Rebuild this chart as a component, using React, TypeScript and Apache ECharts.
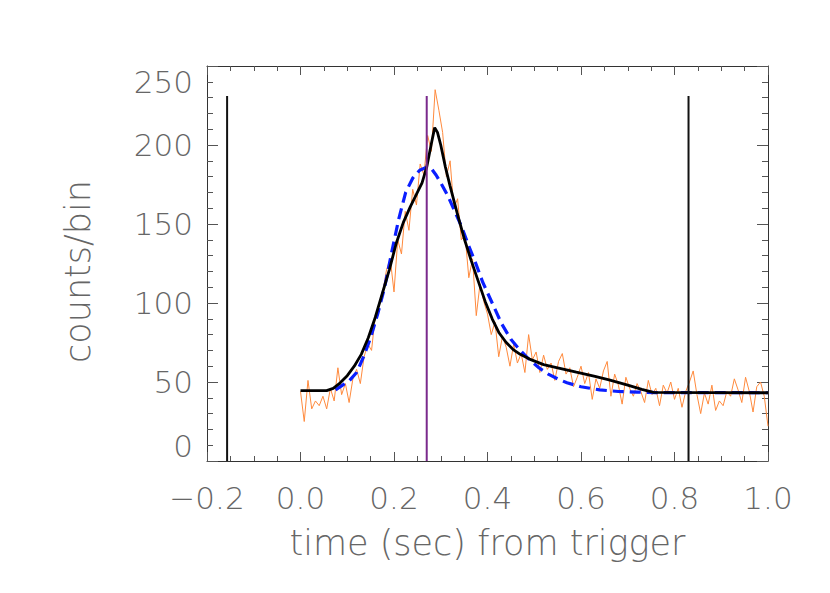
import React, { useEffect, useRef } from 'react';
import * as echarts from 'echarts';

// Light curve: counts per bin, bins of 0.008 s starting at t = 0.0
const BIN_START = 0.0;
const BIN_WIDTH = 0.008;
const counts = [
  44, 25, 51, 33, 38, 35, 41, 33, 46, 38,
  59, 42, 49, 37, 52, 58, 49, 66, 74, 70,
  92, 98, 107, 121, 128, 107, 140, 131, 158, 146,
  172, 162, 188, 181, 206, 196, 235, 222, 208, 180,
  190, 160, 166, 140, 143, 116, 128, 92, 112, 101,
  93, 80, 88, 66, 79, 72, 60, 74, 62, 68,
  56, 80, 64, 69, 56, 67, 58, 62, 51, 63,
  68, 55, 59, 47, 53, 60, 49, 56, 39, 52,
  46, 57, 63, 41, 55, 48, 36, 53, 46, 41,
  49, 44, 37, 51, 42, 46, 35, 48, 43, 50,
  39, 46, 34, 44, 50, 57, 42, 30, 43, 36,
  48, 32, 38, 35, 44, 41, 52, 45, 37, 53,
  44, 31, 47, 50, 41, 22,
];

// Black solid fit
const fitTimes = [
  0.0, 0.056, 0.07, 0.085, 0.1, 0.115, 0.13, 0.145, 0.16, 0.175,
  0.19, 0.205, 0.22, 0.235, 0.25, 0.26, 0.27, 0.28, 0.287, 0.293,
  0.3, 0.31, 0.32, 0.335, 0.35, 0.365, 0.38, 0.395, 0.41, 0.425,
  0.44, 0.455, 0.47, 0.49, 0.52, 0.55, 0.59, 0.63, 0.66, 0.7,
  0.73, 0.755, 1.0,
];
const fitCounts = [
  44.5, 44.5, 46, 49.5, 54, 60, 67.5, 78, 91, 106,
  121, 138, 151, 161, 170, 176, 186, 201, 211, 208,
  200, 186, 174, 157, 141, 127, 114, 101, 90, 81,
  75, 70.5, 67.5, 64.5, 61, 59, 56.2, 53.5, 51.4, 48,
  45.3, 43.4, 43.2,
];

// Blue dashed model
const modelTimes = [
  0.075, 0.09, 0.105, 0.12, 0.135, 0.15, 0.165, 0.18, 0.195, 0.21,
  0.225, 0.24, 0.255, 0.27, 0.28, 0.29, 0.3, 0.315, 0.33, 0.345,
  0.36, 0.375, 0.39, 0.41, 0.43, 0.45, 0.47, 0.49, 0.51, 0.53,
  0.55, 0.57, 0.6, 0.64, 0.68, 0.72, 0.76, 1.0,
];
const modelCounts = [
  45, 48, 51, 56, 66, 78, 93, 110, 132, 153,
  170, 179, 184, 186, 185, 181, 176, 168, 158, 148,
  136, 125, 113, 100, 87, 77, 70, 64, 59, 55,
  52, 49.5, 47, 45, 44, 43.6, 43.3, 43.2,
];

// Vertical marker lines
const markerTimes = [-0.157, 0.27, 0.83];
const markerColors = ['#111111', '#7a2a8c', '#111111'];
const markerTop = 231;

const X_MIN = -0.2;
const X_MAX = 1.0;
const X_STEP = 0.2;
const Y_MIN = 0;
const Y_MAX = 250;
const Y_STEP = 50;

const X_TITLE = 'time (sec) from trigger';
const Y_TITLE = 'counts/bin';

const FONT = 'DejaVu Sans';

export default function App() {
  const ref = useRef<HTMLDivElement>(null);
  useEffect(() => {
    document.body.style.margin = '0';
    const chart = echarts.init(ref.current!, null, { renderer: 'svg' });
    const textStyle = {
      fontFamily: FONT,
      fontWeight: 200 as any,
      fontSize: 31,
      color: '#666666',
    };
    const nameStyle = { ...textStyle, fontSize: 35 };
    const lineCol = '#333333';
    const tickCol = '#555555';
    const xBase = {
      type: 'value' as const,
      min: X_MIN,
      max: X_MAX,
      interval: X_STEP,
      axisLine: { show: true, onZero: false, lineStyle: { color: lineCol, width: 1 } },
      axisTick: { show: true, inside: true, length: 9, lineStyle: { color: tickCol } },
      minorTick: { show: true, splitNumber: 4, length: 5, lineStyle: { color: tickCol } },
      splitLine: { show: false },
      minorSplitLine: { show: false },
    };
    const yBase = {
      type: 'value' as const,
      min: Y_MIN,
      max: Y_MAX,
      interval: Y_STEP,
      axisLine: { show: true, onZero: false, lineStyle: { color: lineCol, width: 1 } },
      axisTick: { show: true, inside: true, length: 11, lineStyle: { color: tickCol } },
      minorTick: { show: true, splitNumber: 5, length: 6, lineStyle: { color: tickCol } },
      splitLine: { show: false },
      minorSplitLine: { show: false },
    };
    const series: any[] = [
      {
        type: 'line',
        data: counts.map((v, i) => [BIN_START + i * BIN_WIDTH, v]),
        showSymbol: false,
        lineStyle: { color: '#ff8a3d', width: 1 },
        z: 2,
      },
      {
        type: 'line',
        data: modelTimes.map((t, i) => [t, modelCounts[i]]),
        showSymbol: false,
        lineStyle: { color: '#0a1eff', width: 3.2, type: [11, 6] },
        z: 3,
      },
      {
        type: 'line',
        data: fitTimes.map((t, i) => [t, fitCounts[i]]),
        showSymbol: false,
        lineStyle: { color: '#000000', width: 2.8 },
        z: 4,
      },
    ];
    markerTimes.forEach((t, i) => {
      series.push({
        type: 'line',
        data: [[t, 0], [t, markerTop]],
        showSymbol: false,
        lineStyle: { color: markerColors[i], width: 2 },
        z: 5,
      });
    });
    chart.setOption({
      animation: false,
      backgroundColor: '#ffffff',
      grid: { left: 207, right: 62, top: 66, bottom: 132, containLabel: false },
      xAxis: [
        {
          ...xBase,
          position: 'bottom',
          axisLabel: {
            ...textStyle,
            margin: 21,
            formatter: (v: number) => v.toFixed(1).replace('-', '\u2212'),
          },
          name: X_TITLE,
          nameLocation: 'middle',
          nameGap: 64,
          nameTextStyle: nameStyle,
        },
        {
          ...xBase,
          position: 'top',
          axisLabel: { show: false },
        },
      ],
      yAxis: [
        {
          ...yBase,
          position: 'left',
          axisLabel: {
            ...textStyle,
            margin: 14,
            verticalAlignMinLabel: 'bottom',
            verticalAlignMaxLabel: 'top',
          },
          name: Y_TITLE,
          nameLocation: 'middle',
          nameGap: 112,
          nameTextStyle: { ...nameStyle, padding: [0, 16, 0, 0] },
        },
        {
          ...yBase,
          position: 'right',
          axisLabel: { show: false },
        },
      ],
      series,
    });
    return () => chart.dispose();
  }, []);
  return <div ref={ref} style={{ width: 830, height: 593 }} />;
}
